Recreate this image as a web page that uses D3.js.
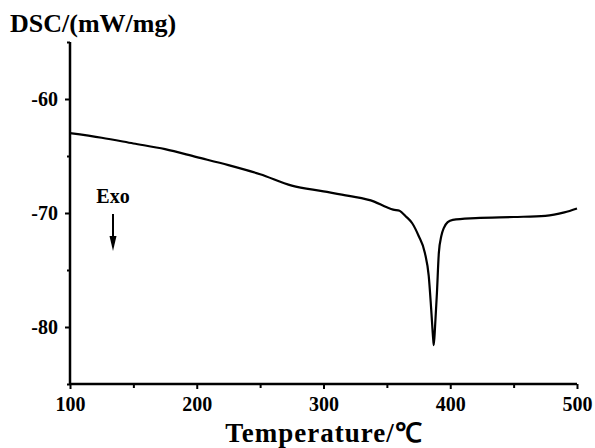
<!DOCTYPE html>
<html><head><meta charset="utf-8">
<script src="https://cdn.jsdelivr.net/npm/d3@7"></script>
<style>body{margin:0;background:#fff}svg{display:block}text{font-family:"Liberation Serif","Times New Roman",serif;font-weight:bold;fill:#000}</style>
</head><body><svg id="c" width="595" height="448"></svg>
<script>
const temperature = [100,125,150,175,200,225,250,275,300,320,340,350,355,360,365,370,375,380,383,385,386.5,387,388,389.5,391,393,395,398,402,420,450,475,490,500];
const dsc = [-63.0,-63.4,-63.9,-64.4,-65.1,-65.8,-66.6,-67.6,-68.1,-68.5,-69.0,-69.5,-69.7,-69.8,-70.3,-70.9,-72.0,-73.5,-75.5,-78.5,-81.0,-81.6,-80.0,-77.0,-73.5,-72.0,-71.3,-70.8,-70.6,-70.45,-70.35,-70.25,-69.95,-69.6];
const xTicks = [100,200,300,400,500];
const xMinor = [150,250,350,450];
const yTicks = [-60,-70,-80];
const yMinor = [-55,-65,-75,-85];

const svg = d3.select("#c");
const x = d3.scaleLinear().domain([100,500]).range([70,577]);
const y = d3.scaleLinear().domain([-85,-55]).range([384,42]);
const fmt = d => String(d);

function styleText(g){
  g.selectAll("text").attr("font-size",20).attr("font-family","Liberation Serif").attr("font-weight","bold").attr("fill","#000");
}
// axes
svg.append("g").attr("transform","translate(70,0)")
  .call(d3.axisLeft(y).tickValues(yTicks).tickSize(5).tickPadding(7).tickFormat(fmt))
  .call(g=>{g.select(".domain").attr("stroke-width",2.5).attr("d","M0,384V42");g.selectAll(".tick line").attr("stroke-width",2);styleText(g);});
svg.append("g").attr("transform","translate(70,0)")
  .call(d3.axisLeft(y).tickValues(yMinor).tickSize(3).tickFormat(""))
  .call(g=>{g.select(".domain").remove();g.selectAll(".tick line").attr("stroke-width",2);});
svg.append("g").attr("transform","translate(0,384)")
  .call(d3.axisBottom(x).tickValues(xTicks).tickSize(5).tickPadding(8).tickFormat(fmt))
  .call(g=>{g.select(".domain").attr("stroke-width",2.5).attr("d","M70,0H577");g.selectAll(".tick line").attr("stroke-width",2);styleText(g);});
svg.append("g").attr("transform","translate(0,384)")
  .call(d3.axisBottom(x).tickValues(xMinor).tickSize(4).tickFormat(""))
  .call(g=>{g.select(".domain").remove();g.selectAll(".tick line").attr("stroke-width",2);});

// curve
const pts = temperature.map((t,i)=>[t,dsc[i]]);
svg.append("path").datum(pts)
  .attr("fill","none").attr("stroke","#000").attr("stroke-width",2.2).attr("stroke-linejoin","round")
  .attr("d", d3.line().x(d=>x(d[0])).y(d=>y(d[1])).curve(d3.curveMonotoneX));

// titles
svg.append("text").attr("x",10).attr("y",32).attr("font-size",26).text("DSC/(mW/mg)");
svg.append("text").attr("x",324).attr("y",442).attr("text-anchor","middle").attr("font-size",27).attr("letter-spacing",1).text("Temperature/℃");

// Exo annotation
svg.append("text").attr("x",113).attr("y",203).attr("text-anchor","middle").attr("font-size",20).text("Exo");
svg.append("line").attr("x1",113).attr("x2",113).attr("y1",214).attr("y2",240).attr("stroke","#000").attr("stroke-width",2);
svg.append("path").attr("d","M109.5,236L116.5,236L113,251Z").attr("fill","#000");
</script></body></html>
